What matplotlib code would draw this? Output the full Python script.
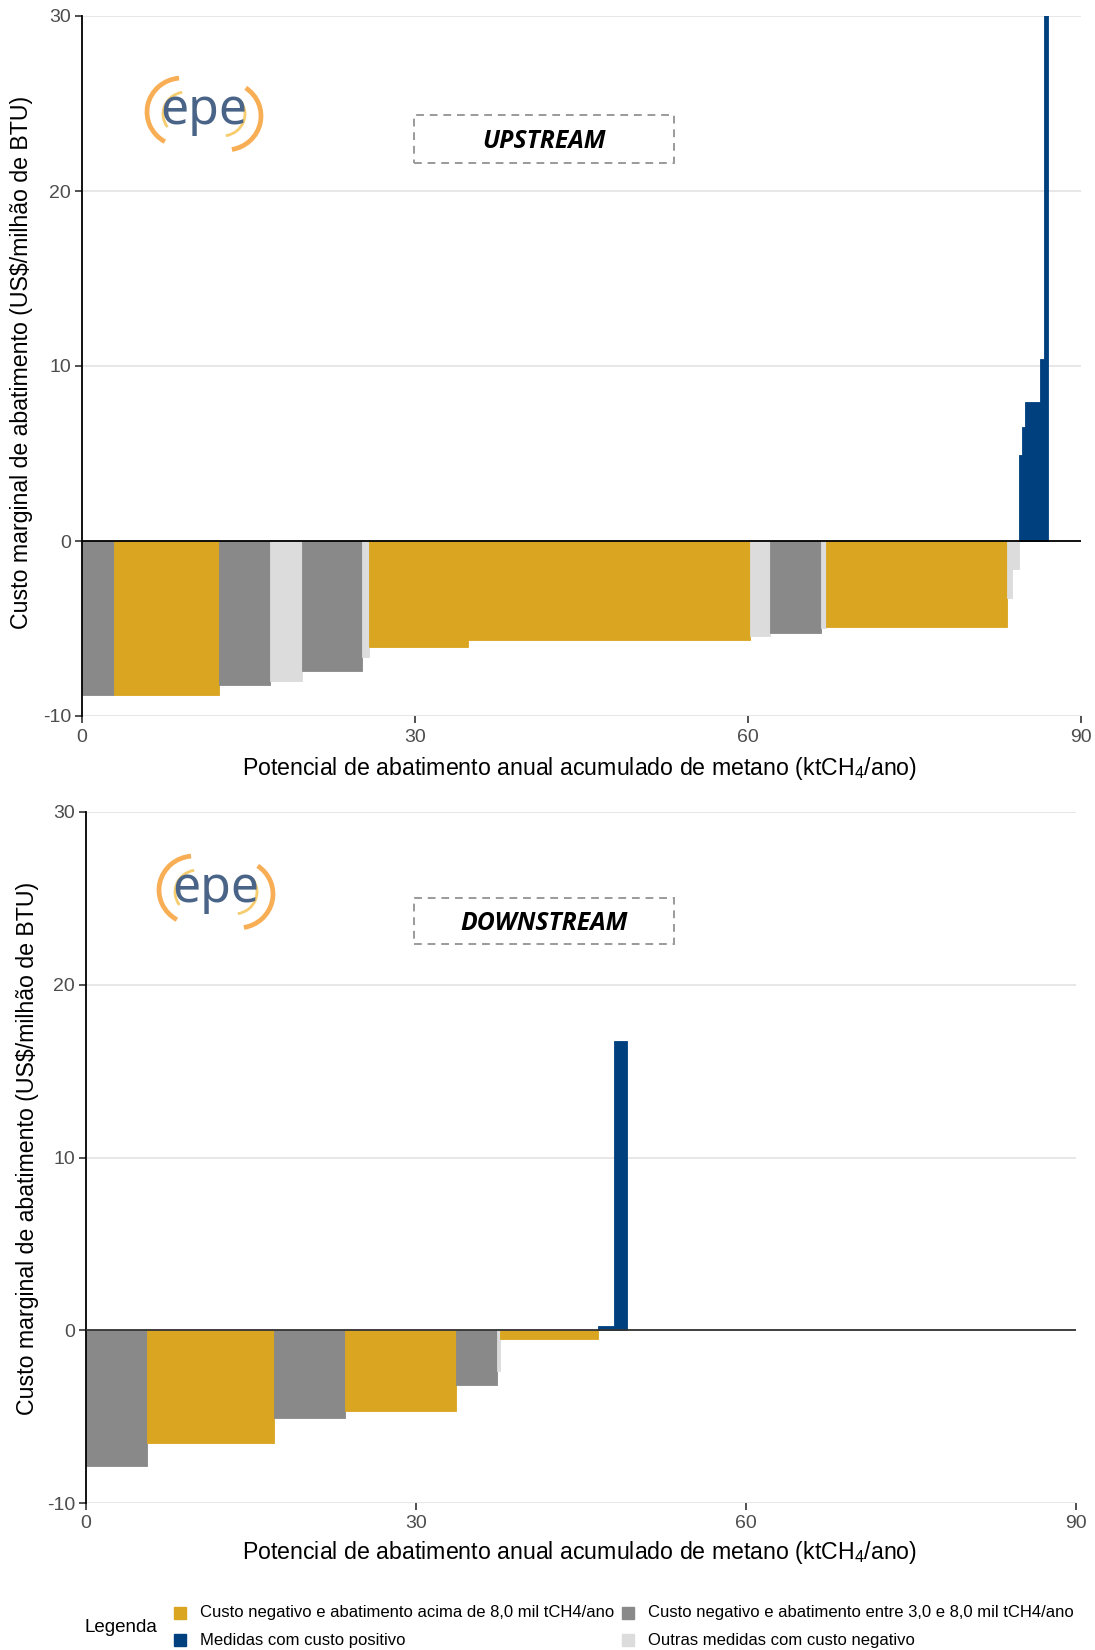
import numpy as np
import matplotlib
matplotlib.use("Agg")
import matplotlib.pyplot as plt
from matplotlib.patches import Rectangle, Arc

plt.rcParams['font.family'] = ['Liberation Sans', 'DejaVu Sans']
plt.rcParams['mathtext.fontset'] = 'custom'
plt.rcParams['mathtext.rm'] = 'Liberation Sans'
plt.rcParams['mathtext.it'] = 'Liberation Sans:italic'
plt.rcParams['axes.unicode_minus'] = False

# categories
cat_names = ['gold', 'blue', 'gray', 'light']
cat_labels = ['Custo negativo e abatimento acima de 8,0 mil tCH4/ano',
              'Medidas com custo positivo',
              'Custo negativo e abatimento entre 3,0 e 8,0 mil tCH4/ano',
              'Outras medidas com custo negativo']
cat_colors = {'gold': '#DAA520', 'blue': '#00407F', 'gray': '#898989', 'light': '#DCDCDC'}

# upstream measures (width = annual abatement ktCH4, cost = US$/MMBTU)
up_width = [2.85, 9.45, 4.6, 2.9, 5.4, 0.7, 8.85, 25.45, 1.75, 4.6, 0.45, 16.3,
            0.45, 0.65, 0.25, 0.3, 1.4, 0.3, 0.4]
up_cost = [-8.8, -8.8, -8.25, -8.0, -7.45, -6.65, -6.05, -5.65, -5.45, -5.28, -4.98, -4.9,
           -3.25, -1.62, 4.9, 6.5, 7.95, 10.4, 38.0]
up_cat = ['gray', 'gold', 'gray', 'light', 'gray', 'light', 'gold', 'gold', 'light', 'gray',
          'light', 'gold', 'light', 'light', 'blue', 'blue', 'blue', 'blue', 'blue']

# downstream measures
down_width = [5.55, 11.5, 6.45, 10.1, 3.75, 0.25, 8.9, 1.5, 1.15]
down_cost = [-7.85, -6.5, -5.1, -4.65, -3.15, -2.35, -0.48, 0.22, 16.75]
down_cat = ['gray', 'gold', 'gray', 'gold', 'gray', 'light', 'gold', 'blue', 'blue']

panel_names = ['UPSTREAM', 'DOWNSTREAM']
x_ticks = [0, 30, 60, 90]
y_ticks = [-10, 0, 10, 20, 30]

W, H = 1095, 1650
fig = plt.figure(figsize=(W / 100, H / 100), dpi=100)


def fx(x):
    return x / W


def fy(y):
    return 1 - y / H


def add_axes_px(x0, y0, x1, y1):
    return fig.add_axes([fx(x0), fy(y1), fx(x1) - fx(x0), fy(y0) - fy(y1)])


def draw_macc(ax, widths, costs, cats, zero_color):
    left = np.concatenate([[0], np.cumsum(widths)[:-1]])
    colors = [cat_colors[c] for c in cats]
    ax.bar(left, costs, width=widths, align='edge', color=colors,
           edgecolor=colors, linewidth=0.6, zorder=2)
    ax.axhline(0, color=zero_color, lw=1.3, zorder=3)
    ax.set_xlim(0, 90)
    ax.set_ylim(-10, 30)
    ax.set_xticks(x_ticks)
    ax.set_yticks(y_ticks)
    ax.grid(axis='y', color='#E3E3E3', lw=1.2, zorder=0)
    ax.set_axisbelow(True)
    for s in ['top', 'right', 'bottom']:
        ax.spines[s].set_visible(False)
    ax.spines['left'].set_color('black')
    ax.spines['left'].set_linewidth(1.3)
    ax.tick_params(axis='both', colors='#333333', labelcolor='#4D4D4D',
                   labelsize=14, length=5, width=1.2)
    ax.tick_params(axis='x', pad=4)
    ax.tick_params(axis='y', pad=3)


def draw_logo(cx, cy):
    lax = add_axes_px(cx - 65, cy - 40, cx + 65, cy + 40)
    lax.set_xlim(-65, 65)
    lax.set_ylim(-40, 40)
    lax.axis('off')
    orange = '#F8AE55'
    yellow = '#F7CC6E'
    lax.add_patch(Arc((-22, 2), 70, 68, theta1=95, theta2=240, color=orange, lw=3.4))
    lax.add_patch(Arc((22, -2), 70, 68, theta1=-80, theta2=55, color=orange, lw=3.4))
    lax.add_patch(Arc((-18, 0), 46, 44, theta1=100, theta2=215, color=yellow, lw=2))
    lax.add_patch(Arc((18, 0), 46, 44, theta1=-80, theta2=35, color=yellow, lw=2))
    lax.text(0, 3, 'epe', ha='center', va='center', fontsize=36,
             color='#4A6487', family=['Noto Sans', 'DejaVu Sans'])


panels = [
    (add_axes_px(82, 16, 1081, 716), up_width, up_cost, up_cat, 'black',
     (204, 114), (414, 115, 674, 163), 768, 22, 362),
    (add_axes_px(86, 812, 1076, 1503), down_width, down_cost, down_cat, '#333333',
     (216, 892), (414, 898, 674, 944), 1553, 28, 1148),
]

for i, (ax, wd, cs, ct, zc, logo, box, xl_y, yl_x, yl_y) in enumerate(panels):
    draw_macc(ax, wd, cs, ct, zc)
    draw_logo(*logo)
    x0, y0, x1, y1 = box
    fig.add_artist(Rectangle((fx(x0), fy(y1)), fx(x1) - fx(x0), fy(y0) - fy(y1),
                             transform=fig.transFigure, fill=False, ec='#9A9A9A',
                             lw=1.4, ls=(0, (4, 3))))
    fig.text(fx((x0 + x1) / 2), fy((y0 + y1) / 2 + 2), panel_names[i], ha='center', va='center',
             fontsize=17.8, fontweight='bold', fontstyle='italic',
             family=['Open Sans', 'Lato', 'DejaVu Sans'])
    fig.text(fx(580), fy(xl_y),
             'Potencial de abatimento anual acumulado de metano (ktCH$_4$/ano)',
             ha='center', va='center', fontsize=16.7)
    fig.text(fx(yl_x), fy(yl_y), 'Custo marginal de abatimento (US$/milhão de BTU)',
             ha='center', va='center', rotation=90, fontsize=16.7)

# legend
fig.text(fx(84), fy(1628), 'Legenda', ha='left', va='center', fontsize=13.5)
leg_pos = [(174, 1613), (174, 1640), (622, 1613), (622, 1640)]
for name, label, (lx, ly) in zip(cat_names, cat_labels, leg_pos):
    fig.add_artist(Rectangle((fx(lx), fy(ly + 6)), fx(12), 12 / H,
                             transform=fig.transFigure, color=cat_colors[name]))
    fig.text(fx(lx + 26), fy(ly), label, ha='left', va='center', fontsize=12,
             family=['Liberation Sans Narrow', 'Liberation Sans'])

fig.savefig('out.png', dpi=100)
